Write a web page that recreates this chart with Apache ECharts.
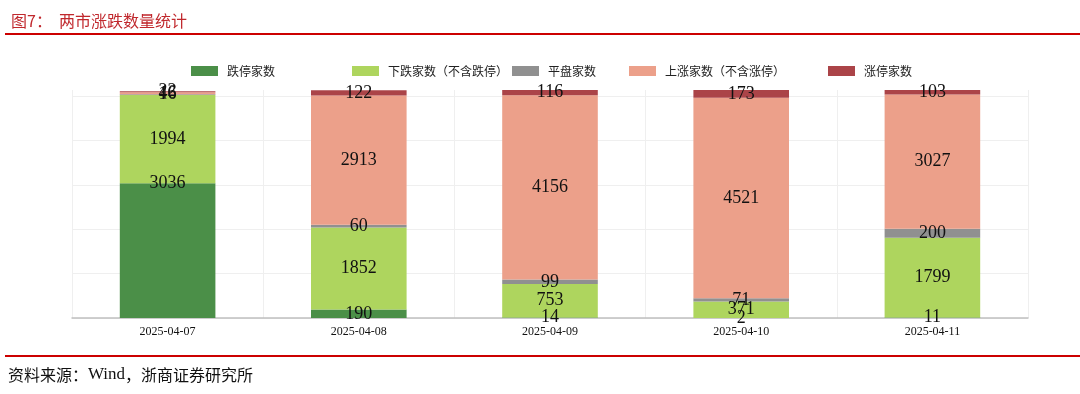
<!DOCTYPE html>
<html>
<head>
<meta charset="utf-8">
<script src="https://cdn.jsdelivr.net/npm/echarts@6/dist/echarts.min.js"></script>
<style>
html,body{margin:0;padding:0;background:#fff;}
#chart{width:1080px;height:394px;}
</style>
</head>
<body>
<div id="chart"></div>
<script>
const categories = ['2025-04-07', '2025-04-08', '2025-04-09', '2025-04-10', '2025-04-11'];
const limitDown = [3036, 190, 14, 2, 11];
const fallExLimit = [1994, 1852, 753, 371, 1799];
const flat = [16, 60, 99, 71, 200];
const riseExLimit = [46, 2913, 4156, 4521, 3027];
const limitUp = [22, 122, 116, 173, 103];
const seriesNames = ['跌停家数', '下跌家数（不含跌停）', '平盘家数', '上涨家数（不含涨停）', '涨停家数'];
const seriesColors = ['#4b8f48', '#aed55e', '#909090', '#eca08a', '#ab4448'];
const seriesData = [limitDown, fallExLimit, flat, riseExLimit, limitUp];

const legendLefts = [186, 347, 507, 624, 823];

const chart = echarts.init(document.getElementById('chart'));

function buildData(i) {
  return seriesData[i].map((v, j) => {
    if (i === 0 && j === 0) {
      // label drawn at the top edge of this segment, as in the reference
      return { value: v, label: { position: ['50%', 0], align: 'center', verticalAlign: 'middle' } };
    }
    return v;
  });
}

const option = {
  animation: false,
  backgroundColor: '#fff',
  title: {
    text: '图7：  两市涨跌数量统计',
    left: 6, top: 8,
    textStyle: { color: '#c0282d', fontSize: 16, fontWeight: 'normal', fontFamily: 'Noto Sans CJK SC' }
  },
  graphic: [
    { type: 'rect', shape: { x: 5, y: 33, width: 1075, height: 2 }, style: { fill: '#cc0000' } },
    { type: 'rect', shape: { x: 5, y: 355, width: 1075, height: 2 }, style: { fill: '#cc0000' } },
    { type: 'text', left: 8, top: 366, style: {
        text: '{a|资料来源：}{b|Wind}{a|，浙商证券研究所}',
        rich: {
          a: { fill: '#111', fontSize: 16, fontFamily: 'Noto Sans CJK SC' },
          b: { fill: '#111', fontSize: 17, fontFamily: 'Liberation Serif' }
        }
      } }
  ],
  legend: seriesNames.map((n, i) => ({
    data: [n], left: legendLefts[i], top: 60,
    itemWidth: 27, itemHeight: 10, itemGap: 10,
    icon: 'rect',
    textStyle: { fontSize: 12, color: '#222', fontFamily: 'Noto Sans CJK SC', padding: [0, 0, 0, 4] }
  })),
  grid: { left: 72, right: 52, top: 90, bottom: 76, containLabel: false },
  xAxis: {
    type: 'category',
    data: categories,
    axisLine: { show: true, lineStyle: { color: '#c0c0c0', width: 1.5 } },
    axisTick: { show: false },
    axisLabel: { color: '#111', fontSize: 12, fontFamily: 'Liberation Serif', margin: 8 },
    splitLine: { show: true, lineStyle: { color: '#efefef', width: 1 } }
  },
  yAxis: {
    type: 'value',
    min: 0, max: 5140, interval: 1000,
    axisLine: { show: false },
    axisTick: { show: false },
    axisLabel: { show: false },
    splitLine: { show: true, showMaxLine: false, lineStyle: { color: '#efefef', width: 1 } }
  },
  series: seriesNames.map((n, i) => ({
    name: n,
    type: 'bar',
    stack: 'total',
    barWidth: '50%',
    data: buildData(i),
    itemStyle: { color: seriesColors[i] },
    label: {
      show: true, position: 'inside', color: '#111',
      fontSize: 18, fontFamily: 'Liberation Serif'
    }
  }))
};
chart.setOption(option);
</script>
</body>
</html>
